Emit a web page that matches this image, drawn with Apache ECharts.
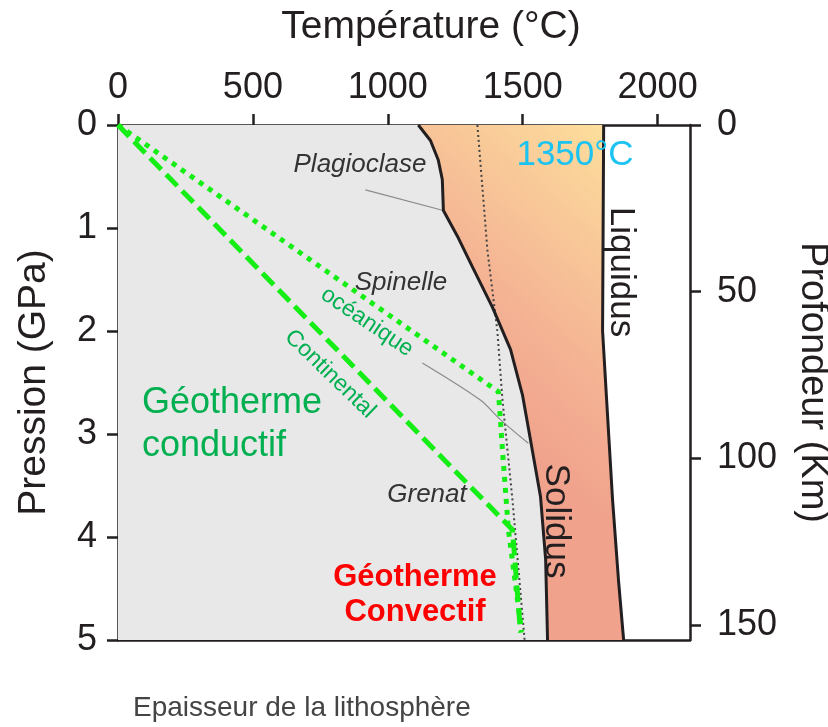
<!DOCTYPE html>
<html>
<head>
<meta charset="utf-8">
<script src="https://cdn.jsdelivr.net/npm/echarts@6/dist/echarts.min.js"></script>
<style>
  html, body { margin: 0; padding: 0; background: #fff; }
  #chart { width: 828px; height: 727px; }
</style>
</head>
<body>
<div id="chart"></div>
<script>
// ---- Data (temperature °C, pressure GPa) ----
const solidus = [[1113,0],[1158,0.15],[1187,0.34],[1202,0.53],[1206,0.83],[1262,1.10],[1314,1.38],[1388,1.77],[1455,2.18],[1499,2.62],[1529,3.06],[1566,3.61],[1585,4.22],[1592,5.0]];
const liquidus = [[1800,0],[1798,1.0],[1796,2.0],[1811,2.67],[1833,3.64],[1855,4.42],[1874,5.0]];
const adiabat1350 = [[1332,0],[1369,1.21],[1406,2.0],[1425,2.67],[1462,3.64],[1507,5.0]];
const geothermOceanic = [[0,0],[1410,2.59],[1425,3.16],[1447,3.93],[1496,4.92]];
const geothermContinental = [[0,0],[1462,3.93],[1492,4.93]];
const leaderPlagioclase = [[917,0.63],[1206,0.83]];
const leaderSpinelle = [[1128,2.31],[1343,2.67],[1417,2.86],[1521,3.09]];
const tempTicks = [0, 500, 1000, 1500, 2000];
const pressureTicks = [0, 1, 2, 3, 4, 5];
const depthTicks = [0, 50, 100, 150];

const FONT = '"Liberation Sans", Arial, sans-serif';
const INK = '#231f20';

const chart = echarts.init(document.getElementById('chart'), null, { renderer: 'canvas' });

function polygonSeries(name, getPts, fill) {
  return {
    name, type: 'custom', xAxisIndex: 0, yAxisIndex: 0, z: 1, silent: true,
    data: [0],
    renderItem: function (params, api) {
      const pts = getPts().map(p => api.coord(p));
      return { type: 'polygon', shape: { points: pts }, style: { fill: fill, stroke: null } };
    }
  };
}

const grayRegion = () => [[0,0]].concat(solidus).concat([[0,5]]);
const meltRegion = () => solidus.concat(liquidus.slice().reverse());

const option = {
  animation: false,
  backgroundColor: '#ffffff',
  grid: { left: 118, top: 125, right: 138, bottom: 87, show: true, backgroundColor: '#ffffff', borderWidth: 0,
    containLabel: false, outerBoundsMode: 'none' },
  xAxis: [
    {
      type: 'value', position: 'top', min: 0, max: 2120, interval: 500,
      axisLine: { show: true, onZero: false, lineStyle: { color: INK, width: 2.5 } },
      axisTick: { show: true, inside: false, length: 11, lineStyle: { color: INK, width: 2.5 } },
      axisLabel: { show: true, fontFamily: FONT, fontSize: 36, color: INK, margin: 19, showMaxLabel: false,
        formatter: v => tempTicks.indexOf(v) >= 0 ? String(v) : '' },
      splitLine: { show: false }
    },
    {
      type: 'value', position: 'bottom', min: 0, max: 2120,
      axisLine: { show: true, onZero: false, lineStyle: { color: INK, width: 2.5 } },
      axisTick: { show: false }, axisLabel: { show: false }, splitLine: { show: false }
    }
  ],
  yAxis: [
    {
      type: 'value', position: 'left', inverse: true, min: 0, max: 5, interval: 1,
      name: 'Pression (GPa)', nameLocation: 'middle', nameGap: 64, nameRotate: 90,
      nameTextStyle: { fontFamily: FONT, fontSize: 39, color: INK },
      axisLine: { show: true, onZero: false, lineStyle: { color: INK, width: 2.5 } },
      axisTick: { show: true, inside: false, length: 11, lineStyle: { color: INK, width: 2.5 } },
      axisLabel: { fontFamily: FONT, fontSize: 36, color: INK, margin: 21,
        formatter: v => pressureTicks.indexOf(v) >= 0 ? String(v) : '' },
      splitLine: { show: false }
    },
    {
      type: 'value', position: 'right', inverse: true, min: 0, max: 154.5, interval: 50,
      name: 'Profondeur (Km)', nameLocation: 'middle', nameGap: 103, nameRotate: -90,
      nameTextStyle: { fontFamily: FONT, fontSize: 38, color: INK },
      axisLine: { show: true, onZero: false, lineStyle: { color: INK, width: 2.5 } },
      axisTick: { show: true, inside: false, length: 11, lineStyle: { color: INK, width: 2.5 } },
      axisLabel: { fontFamily: FONT, fontSize: 36, color: INK, margin: 27, showMaxLabel: false,
        formatter: v => depthTicks.indexOf(v) >= 0 ? String(v) : '' },
      splitLine: { show: false }
    }
  ],
  series: [
    polygonSeries('Domaine solide', grayRegion, '#e8e8e8'),
    polygonSeries('Fusion partielle', meltRegion, new echarts.graphic.LinearGradient(1, 0, 0, 0.45, [
      { offset: 0, color: '#fee29b' },
      { offset: 0.2, color: '#fbd39a' },
      { offset: 0.45, color: '#f7c297' },
      { offset: 0.7, color: '#f4b193' },
      { offset: 1, color: '#f0a28c' }
    ])),
    { name: 'Solidus', type: 'line', data: solidus, symbol: 'none', z: 4, silent: true,
      lineStyle: { color: INK, width: 3 } },
    { name: 'Liquidus', type: 'line', data: liquidus, symbol: 'none', z: 4, silent: true,
      lineStyle: { color: INK, width: 3 } },
    { name: 'Adiabat 1350', type: 'line', data: adiabat1350, symbol: 'none', z: 3, silent: true,
      lineStyle: { color: '#444444', width: 2, type: [2, 3] } },
    { name: 'Plagioclase-Spinelle', type: 'line', data: leaderPlagioclase, symbol: 'none', z: 3, silent: true,
      lineStyle: { color: '#8a8a8a', width: 1.2 } },
    { name: 'Spinelle-Grenat', type: 'line', data: leaderSpinelle, symbol: 'none', z: 3, silent: true, smooth: 0.3,
      lineStyle: { color: '#8a8a8a', width: 1.2 } },
    { name: 'Géotherme continental', type: 'line', data: geothermContinental, symbol: 'none', z: 5, silent: true,
      lineStyle: { color: '#14ee14', width: 5, type: [16, 7], cap: 'butt' } },
    { name: 'Géotherme océanique', type: 'line', data: geothermOceanic, symbol: 'none', z: 6, silent: true,
      lineStyle: { color: '#14ee14', width: 5, type: [5, 6], cap: 'butt' } }
  ],
  graphic: [
    { type: 'text', x: 431, y: 27, z: 10, style: { text: 'Température (°C)', fontFamily: FONT, fontSize: 39, fill: INK, align: 'center', verticalAlign: 'middle' } },
    { type: 'text', x: 360, y: 165, z: 10, style: { text: 'Plagioclase', fontFamily: FONT, fontSize: 26, fontStyle: 'italic', fill: '#333', align: 'center', verticalAlign: 'middle' } },
    { type: 'text', x: 401, y: 283, z: 10, style: { text: 'Spinelle', fontFamily: FONT, fontSize: 26, fontStyle: 'italic', fill: '#333', align: 'center', verticalAlign: 'middle' } },
    { type: 'text', x: 427, y: 495, z: 10, style: { text: 'Grenat', fontFamily: FONT, fontSize: 26, fontStyle: 'italic', fill: '#333', align: 'center', verticalAlign: 'middle' } },
    { type: 'text', x: 575, y: 155, z: 10, style: { text: '1350°C', fontFamily: FONT, fontSize: 35, fill: '#1cc3f0', align: 'center', verticalAlign: 'middle' } },
    { type: 'text', x: 621, y: 272, z: 10, rotation: -Math.PI / 2, style: { text: 'Liquidus', fontFamily: FONT, fontSize: 35, fill: INK, align: 'center', verticalAlign: 'middle' } },
    { type: 'text', x: 556, y: 521, z: 10, rotation: -Math.PI / 2, style: { text: 'Solidus', fontFamily: FONT, fontSize: 35, fill: INK, align: 'center', verticalAlign: 'middle' } },
    { type: 'text', x: 367, y: 322, z: 10, rotation: -34 * Math.PI / 180, style: { text: 'océanique', fontFamily: FONT, fontSize: 23, fill: '#00b050', align: 'center', verticalAlign: 'middle' } },
    { type: 'text', x: 330, y: 374, z: 10, rotation: -44 * Math.PI / 180, style: { text: 'Continental', fontFamily: FONT, fontSize: 23, fill: '#00b050', align: 'center', verticalAlign: 'middle' } },
    { type: 'text', x: 142, y: 403, z: 10, style: { text: 'Géotherme', fontFamily: FONT, fontSize: 36, fill: '#00b050', align: 'left', verticalAlign: 'middle' } },
    { type: 'text', x: 142, y: 446, z: 10, style: { text: 'conductif', fontFamily: FONT, fontSize: 36, fill: '#00b050', align: 'left', verticalAlign: 'middle' } },
    { type: 'text', x: 415, y: 577, z: 10, style: { text: 'Géotherme', fontFamily: FONT, fontSize: 31, fontWeight: 'bold', fill: '#ff0000', align: 'center', verticalAlign: 'middle' } },
    { type: 'text', x: 415, y: 612, z: 10, style: { text: 'Convectif', fontFamily: FONT, fontSize: 31, fontWeight: 'bold', fill: '#ff0000', align: 'center', verticalAlign: 'middle' } },
    { type: 'text', x: 133, y: 708, z: 10, style: { text: 'Epaisseur de la lithosphère', fontFamily: FONT, fontSize: 28, fill: '#444', align: 'left', verticalAlign: 'middle' } }
  ]
};
chart.setOption(option);
</script>
</body>
</html>
